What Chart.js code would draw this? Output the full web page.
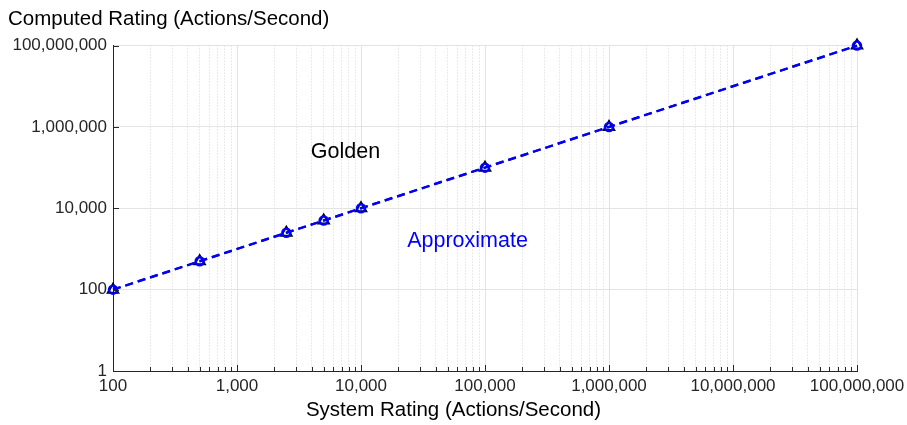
<!DOCTYPE html>
<html>
<head>
<meta charset="utf-8">
<script src="https://cdn.jsdelivr.net/npm/chart.js@4/dist/chart.umd.min.js"></script>
<style>
  html, body { margin: 0; padding: 0; background: #fff; }
  #wrap { width: 907px; height: 425px; }
</style>
</head>
<body>
<div id="wrap"><canvas id="c" width="907" height="425"></canvas></div>
<script>
// Measured vs. computed throughput, both on log scales
const systemRating = [100, 500, 2500, 5000, 10000, 100000, 1000000, 100000000];
const goldenRating = [100, 500, 2500, 5000, 10000, 100000, 1000000, 100000000];
const approxRating = [100, 500, 2500, 5000, 10000, 100000, 1000000, 100000000];

const xMajorTicks = [100, 1000, 10000, 100000, 1000000, 10000000, 100000000];
const yMajorTicks = [1, 100, 10000, 1000000, 100000000];

// In-plot series captions: [text, x, y, colour]
const seriesCaptions = [
  ['Golden', 7500, 245000, '#000000'],
  ['Approximate', 72300, 1585, '#0000ff']
];

const xAxisTitle = 'System Rating (Actions/Second)';
const yAxisTitle = 'Computed Rating (Actions/Second)';

const FONT = '"Liberation Sans", Arial, sans-serif';
const fmt = v => Number(v).toLocaleString('en-US');

function xTickList() {
  const out = [];
  for (let d = 0; d < xMajorTicks.length; d++) {
    const base = xMajorTicks[d];
    out.push({ value: base, major: true });
    if (d < xMajorTicks.length - 1) {
      for (let m = 2; m <= 9; m++) out.push({ value: base * m, major: false });
    }
  }
  return out;
}

// Short tick marks pointing into the plot area
const innerTicks = {
  id: 'innerTicks',
  afterDatasetsDraw(chart) {
    const { ctx, chartArea: a, scales: { x, y } } = chart;
    ctx.save();
    ctx.strokeStyle = '#262626';
    ctx.lineWidth = 1;
    ctx.beginPath();
    x.ticks.forEach(t => {
      const px = Math.round(x.getPixelForValue(t.value)) + 0.5;
      const len = t.major ? 6 : 4;
      ctx.moveTo(px, a.bottom);
      ctx.lineTo(px, a.bottom - len);
    });
    y.ticks.forEach(t => {
      const py = Math.round(y.getPixelForValue(t.value)) + 0.5;
      ctx.moveTo(a.left, py);
      ctx.lineTo(a.left + 6, py);
    });
    ctx.stroke();
    ctx.restore();
  }
};

// Series captions inside the plot and the x-axis title centred on the figure
const captions = {
  id: 'captions',
  afterDatasetsDraw(chart) {
    const { ctx, scales: { x, y } } = chart;
    ctx.save();
    ctx.font = '21.5px ' + FONT;
    ctx.textAlign = 'center';
    ctx.textBaseline = 'middle';
    seriesCaptions.forEach(([txt, vx, vy, col]) => {
      ctx.fillStyle = col;
      ctx.fillText(txt, x.getPixelForValue(vx), y.getPixelForValue(vy));
    });
    ctx.font = '20.5px ' + FONT;
    ctx.fillStyle = '#000';
    ctx.fillText(xAxisTitle, chart.width / 2, 410);
    ctx.restore();
  }
};

const toPts = ys => systemRating.map((v, i) => ({ x: v, y: ys[i] }));

new Chart(document.getElementById('c'), {
  type: 'scatter',
  data: {
    datasets: [
      {
        label: 'Golden',
        data: toPts(goldenRating),
        showLine: true,
        borderColor: '#000000',
        backgroundColor: 'rgba(0,0,0,0)',
        borderWidth: 2,
        borderDash: [8, 5],
        pointStyle: 'triangle',
        pointRadius: 6,
        pointBorderWidth: 2,
        pointBorderColor: '#000000',
        pointBackgroundColor: 'rgba(0,0,0,0)',
        clip: false,
        order: 2
      },
      {
        label: 'Approximate',
        data: toPts(approxRating),
        showLine: true,
        borderColor: '#0000ff',
        backgroundColor: 'rgba(0,0,0,0)',
        borderWidth: 2.5,
        borderDash: [8, 5],
        pointStyle: 'circle',
        pointRadius: 4,
        pointBorderWidth: 2.5,
        pointBorderColor: '#0000ff',
        pointBackgroundColor: 'rgba(0,0,0,0)',
        clip: false,
        order: 1
      }
    ]
  },
  options: {
    responsive: false,
    animation: false,
    layout: { padding: { left: 8, right: 50, top: 0, bottom: 4 } },
    plugins: {
      legend: { display: false },
      tooltip: { enabled: false },
      title: {
        display: true,
        text: yAxisTitle,
        align: 'start',
        color: '#000',
        font: { family: FONT, size: 20.5, weight: 'normal' },
        padding: { top: 7, bottom: 14 }
      }
    },
    scales: {
      x: {
        type: 'logarithmic',
        min: 100,
        max: 100000000,
        afterBuildTicks: s => { s.ticks = xTickList(); },
        afterFit: s => { s.height = 50; s.paddingLeft = 0; s.paddingRight = 0; },
        ticks: {
          autoSkip: false,
          maxRotation: 0,
          padding: 5,
          color: '#262626',
          font: { family: FONT, size: 17 },
          callback: function (v, i, ticks) { return ticks[i].major ? fmt(v) : ''; }
        },
        grid: {
          drawTicks: false,
          color: c => (c.tick && c.tick.major ? '#e3e3e3' : '#d6d6d6'),
          lineWidth: 1
        },
        border: {
          display: true,
          color: '#262626',
          width: 1,
          dash: c => (c.tick && !c.tick.major ? [1, 2] : [])
        }
      },
      y: {
        type: 'logarithmic',
        min: 1,
        max: 100000000,
        afterBuildTicks: s => { s.ticks = yMajorTicks.map(v => ({ value: v, major: true })); },
        afterFit: s => { s.width = 105; },
        ticks: {
          autoSkip: false,
          padding: 6,
          color: '#262626',
          font: { family: FONT, size: 17 },
          callback: v => fmt(v)
        },
        grid: {
          drawTicks: false,
          color: '#e3e3e3',
          lineWidth: 1
        },
        border: { display: true, color: '#262626', width: 1 }
      }
    }
  },
  plugins: [innerTicks, captions]
});
</script>
</body>
</html>
